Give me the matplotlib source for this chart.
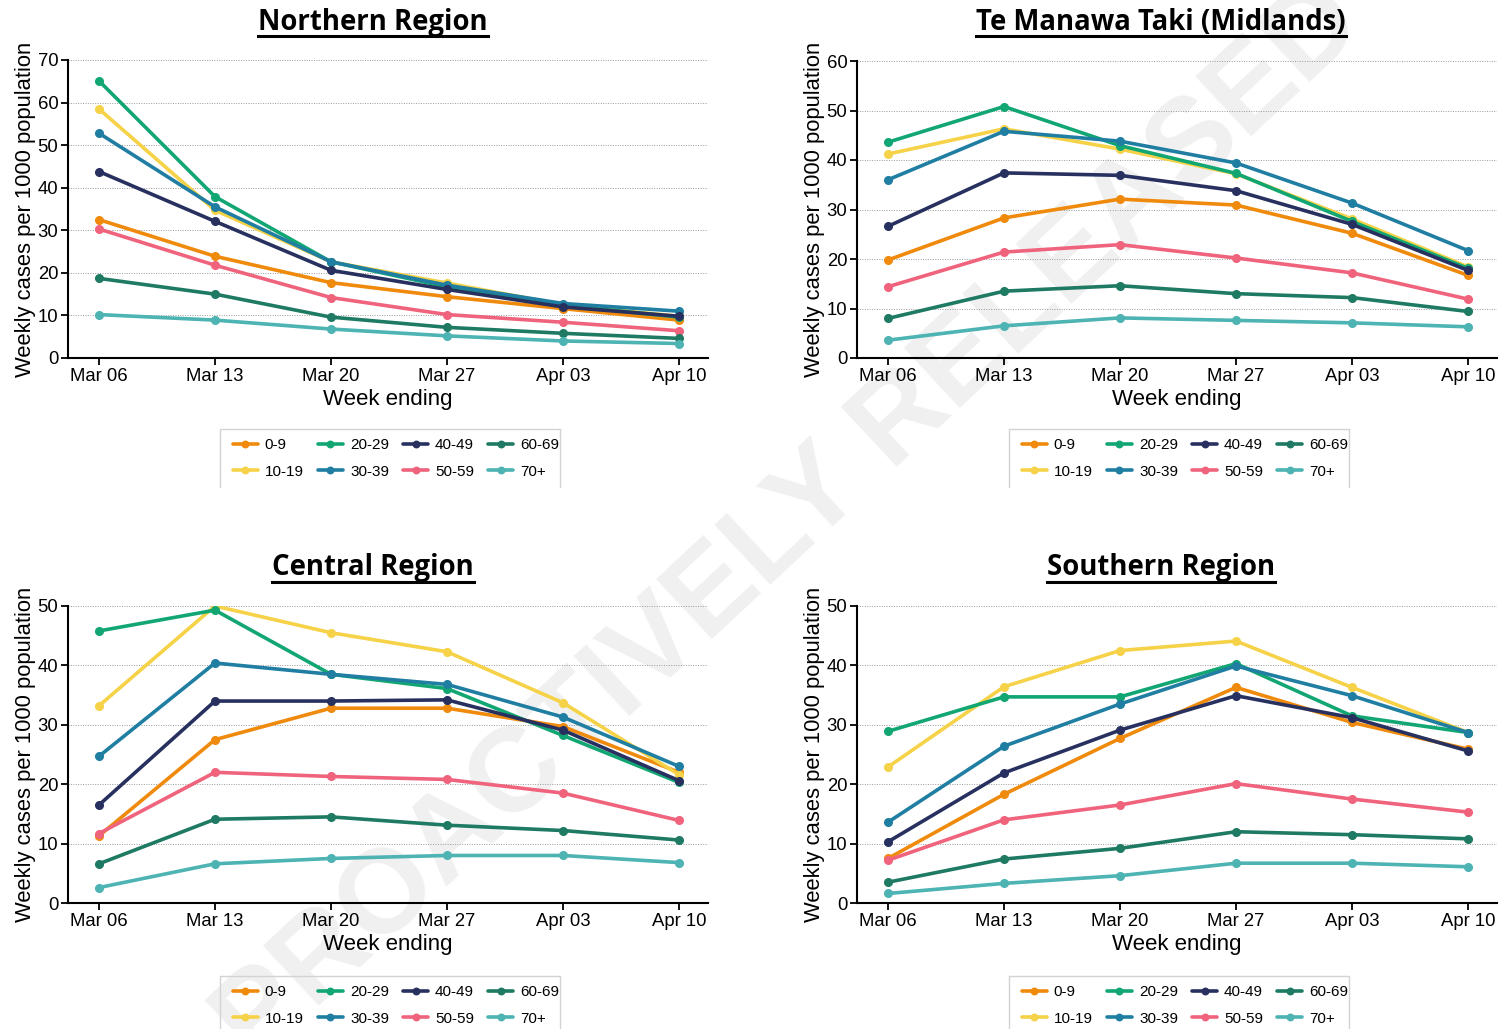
import matplotlib
matplotlib.use("Agg")
import matplotlib.pyplot as plt
from matplotlib.lines import Line2D

# Week-ending labels and age bands
weeks = ["Mar 06", "Mar 13", "Mar 20", "Mar 27", "Apr 03", "Apr 10"]
age_groups = ["0-9", "10-19", "20-29", "30-39", "40-49", "50-59", "60-69", "70+"]
age_colors = ["#EF8A0C", "#F5D247", "#12A673", "#1F7EA1",
              "#27305F", "#F0637C", "#1F7A63", "#4DB3B3"]

# Weekly cases per 1000 population, one row per age band
northern = [
    [32.5, 23.9, 17.7, 14.4, 11.6, 8.9],
    [58.5, 34.7, 22.6, 17.6, 12.5, 9.8],
    [65.1, 37.9, 22.6, 16.7, 12.4, 9.6],
    [52.8, 35.5, 22.6, 17.1, 12.8, 11.0],
    [43.8, 32.1, 20.6, 16.1, 12.0, 9.8],
    [30.3, 21.8, 14.2, 10.2, 8.4, 6.4],
    [18.7, 15.0, 9.6, 7.2, 5.8, 4.6],
    [10.2, 8.9, 6.8, 5.2, 4.0, 3.4],
]
midlands = [
    [19.8, 28.3, 32.1, 30.9, 25.2, 16.7],
    [41.2, 46.3, 42.2, 37.2, 28.1, 18.4],
    [43.6, 50.8, 42.9, 37.3, 27.6, 18.1],
    [36.0, 45.8, 43.8, 39.4, 31.3, 21.7],
    [26.6, 37.4, 36.9, 33.8, 27.0, 17.7],
    [14.4, 21.4, 22.9, 20.2, 17.2, 11.9],
    [8.0, 13.5, 14.6, 13.0, 12.2, 9.4],
    [3.6, 6.5, 8.1, 7.6, 7.1, 6.3],
]
central = [
    [11.3, 27.5, 32.8, 32.8, 29.7, 22.0],
    [33.2, 50.0, 45.5, 42.3, 33.7, 21.6],
    [45.8, 49.3, 38.5, 36.1, 28.2, 20.3],
    [24.7, 40.4, 38.5, 36.8, 31.3, 23.0],
    [16.5, 34.0, 34.0, 34.2, 29.1, 20.6],
    [11.7, 22.0, 21.3, 20.8, 18.5, 13.9],
    [6.6, 14.1, 14.5, 13.1, 12.2, 10.6],
    [2.6, 6.6, 7.5, 8.0, 8.0, 6.8],
]
southern = [
    [7.5, 18.3, 27.7, 36.3, 30.4, 25.9],
    [22.9, 36.4, 42.5, 44.1, 36.3, 28.7],
    [28.9, 34.7, 34.7, 40.3, 31.5, 28.7],
    [13.6, 26.4, 33.5, 39.9, 34.9, 28.7],
    [10.3, 21.9, 29.1, 34.9, 31.2, 25.6],
    [7.2, 14.0, 16.5, 20.1, 17.5, 15.3],
    [3.5, 7.4, 9.2, 12.0, 11.5, 10.8],
    [1.6, 3.3, 4.6, 6.7, 6.7, 6.1],
]

region_titles = ["Northern Region", "Te Manawa Taki (Midlands)",
                 "Central Region", "Southern Region"]
region_data = [northern, midlands, central, southern]
region_ymax = [70, 60, 50, 50]

W, H = 1500, 1029
fig = plt.figure(figsize=(W / 100, H / 100), dpi=100)
fig.patch.set_facecolor("white")

tick_font = "Liberation Sans"
title_font = "Open Sans"

# panel geometry in pixels: left, right, top(y of ymax), bottom(y of 0)
panels = [
    (68, 708, 60, 358),
    (857, 1497, 61, 358),
    (68, 708, 606, 903),
    (857, 1497, 606, 903),
]
title_pos = [(373, 22), (1161, 22), (373, 568), (1161, 568)]
legend_top = [429, 429, 976, 976]
legend_shift = 8

# faint diagonal release stamp behind everything
fig.text(0.527, 0.49, "PROACTIVELY RELEASED", rotation=43, fontsize=86,
         fontweight="bold", family=tick_font, color="#f0f0f0",
         ha="center", va="center", zorder=-5, rotation_mode="anchor")

axes = []
legends = []
titles = []
x = list(range(len(weeks)))
for i, (l, r, t, b) in enumerate(panels):
    ax = fig.add_axes([l / W, 1 - b / H, (r - l) / W, (b - t) / H])
    ax.set_facecolor("none")
    for series, label, col in zip(region_data[i], age_groups, age_colors):
        ax.plot(x, series, color=col, lw=2.6, marker="o", ms=5.5,
                label=label, solid_capstyle="round")
    ax.set_xlim(-0.267, 5.25)
    ax.set_ylim(0, region_ymax[i])
    ax.set_yticks(range(0, region_ymax[i] + 1, 10))
    ax.set_xticks(x)
    ax.set_xticklabels(weeks)
    for s in ["top", "right"]:
        ax.spines[s].set_visible(False)
    for s in ["left", "bottom"]:
        ax.spines[s].set_linewidth(1.5)
        ax.spines[s].set_color("black")
    ax.tick_params(axis="both", length=5, width=1.3, color="black",
                   labelsize=13.3, pad=2)
    for lab in ax.get_xticklabels() + ax.get_yticklabels():
        lab.set_family(tick_font)
    ax.yaxis.grid(True, linestyle=(0, (1, 1.5)), color="#9a9a9a", lw=0.7)
    ax.set_axisbelow(True)
    ax.set_xlabel("Week ending", family=tick_font, fontsize=16, labelpad=3)
    ax.set_ylabel("Weekly cases per 1000 population", family=tick_font,
                  fontsize=15.8, labelpad=1)

    tx, ty = title_pos[i]
    titles.append(fig.text(tx / W, 1 - ty / H, region_titles[i],
                           family=title_font, fontweight="bold", fontsize=19.8,
                           ha="center", va="center"))

    leg = ax.legend(ncol=4, loc="upper center", frameon=False,
                    bbox_to_anchor=(((l + r) / 2 + legend_shift) / W,
                                    1 - legend_top[i] / H),
                    bbox_transform=fig.transFigure, borderaxespad=0,
                    prop={"family": tick_font, "size": 11},
                    handlelength=1.65, handletextpad=0.45, columnspacing=0.92,
                    labelspacing=0.82, borderpad=0.6, markerscale=0.85)
    legends.append(leg)
    axes.append(ax)

fig.canvas.draw()
renderer = fig.canvas.get_renderer()

# underline each panel title
for t in titles:
    bb = t.get_window_extent(renderer)
    y = bb.y0 + 1
    fig.add_artist(Line2D([bb.x0 / W, bb.x1 / W], [y / H, y / H],
                          transform=fig.transFigure, color="black", lw=2.2))

# legend frames open at the bottom
for leg in legends:
    bb = leg.get_window_extent(renderer)
    x0, x1, y1 = bb.x0 - 4, bb.x1 - 8, bb.y1
    y0 = bb.y0 + 1
    fig.add_artist(Line2D([x0 / W, x0 / W, x1 / W, x1 / W],
                          [y0 / H, y1 / H, y1 / H, y0 / H],
                          transform=fig.transFigure, color="#d3d3d3", lw=1.0))

fig.savefig("out.png", dpi=100, facecolor="white")
